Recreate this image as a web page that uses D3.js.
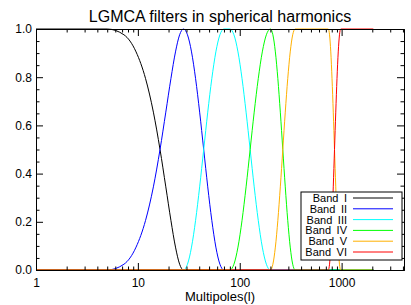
<!DOCTYPE html>
<html>
<head>
<meta charset="utf-8">
<script src="https://cdn.jsdelivr.net/npm/d3@7"></script>
<style>
  body { margin: 0; background: #fff; }
  svg { display: block; font-family: "Liberation Sans", Arial, sans-serif; }
</style>
</head>
<body>
<div id="chart"></div>
<script>
// filter responses (multipole l, response h)
var bandI_l   = [1, 5, 7.3, 9.6, 11.9, 14.2, 16.5, 18.8, 21.1, 23.4, 25.7, 28, 2048];
var bandI_h   = [1, 1, 0.976, 0.905, 0.794, 0.655, 0.5, 0.345, 0.206, 0.095, 0.024, 0, 0];

var bandII_l  = [1, 5, 7.3, 9.6, 11.9, 14.2, 16.5, 18.8, 21.1, 23.4, 25.7, 28,
                 30.69, 33.63, 36.86, 40.4, 44.27, 48.52, 53.18, 58.28, 63.87, 70, 2048];
var bandII_h  = [0, 0, 0.024, 0.095, 0.206, 0.345, 0.5, 0.655, 0.794, 0.905, 0.976, 1,
                 0.976, 0.905, 0.794, 0.655, 0.5, 0.345, 0.206, 0.095, 0.024, 0, 0];

var bandIII_l = [1, 28, 30.69, 33.63, 36.86, 40.4, 44.27, 48.52, 53.18, 58.28, 63.87, 70,
                 80, 87.68, 96.09, 105.31, 115.42, 126.49, 138.63, 151.94, 166.52, 182.5, 200, 2048];
var bandIII_h = [0, 0, 0.024, 0.095, 0.206, 0.345, 0.5, 0.655, 0.794, 0.905, 0.976, 1,
                 1, 0.976, 0.905, 0.794, 0.655, 0.5, 0.345, 0.206, 0.095, 0.024, 0, 0];

var bandIV_l  = [1, 80, 87.68, 96.09, 105.31, 115.42, 126.49, 138.63, 151.94, 166.52, 182.5, 200,
                 211.5, 223.7, 236.6, 250.2, 264.6, 279.8, 295.9, 313, 331, 350, 2048];
var bandIV_h  = [0, 0, 0.024, 0.095, 0.206, 0.345, 0.5, 0.655, 0.794, 0.905, 0.976, 1,
                 0.976, 0.905, 0.794, 0.655, 0.5, 0.345, 0.206, 0.095, 0.024, 0, 0];

var bandV_l   = [1, 200, 211.5, 223.7, 236.6, 250.2, 264.6, 279.8, 295.9, 313, 331, 350,
                 740, 761.1, 782.8, 805.1, 828, 851.6, 875.9, 900.8, 926.5, 952.9, 980, 2048];
var bandV_h   = [0, 0, 0.024, 0.095, 0.206, 0.345, 0.5, 0.655, 0.794, 0.905, 0.976, 1,
                 1, 0.976, 0.905, 0.794, 0.655, 0.5, 0.345, 0.206, 0.095, 0.024, 0, 0];

var bandVI_l  = [1, 740, 761.1, 782.8, 805.1, 828, 851.6, 875.9, 900.8, 926.5, 952.9, 980, 2048];
var bandVI_h  = [0, 0, 0.024, 0.095, 0.206, 0.345, 0.5, 0.655, 0.794, 0.905, 0.976, 1, 1];

var band_names = ["Band I", "Band II", "Band III", "Band IV", "Band V", "Band VI"];
var band_l = [bandI_l, bandII_l, bandIII_l, bandIV_l, bandV_l, bandVI_l];
var band_h = [bandI_h, bandII_h, bandIII_h, bandIV_h, bandV_h, bandVI_h];

var x_major = [1, 10, 100, 1000];
var x_minor = [2, 3, 4, 5, 6, 7, 8, 9, 20, 30, 40, 50, 60, 70, 80, 90,
               200, 300, 400, 500, 600, 700, 800, 900, 2000, 3000, 4000];
var y_major = [0, 0.2, 0.4, 0.6, 0.8, 1.0];
var y_minor = [0.05, 0.1, 0.15, 0.25, 0.3, 0.35, 0.45, 0.5, 0.55, 0.65, 0.7, 0.75, 0.85, 0.9, 0.95];

var colours = ["#000000", "#0000ff", "#00ffff", "#00ff00", "#ffb000", "#ff0000"];

var width = 411, height = 305;
var plot_left = 36, plot_right = 404, plot_top = 29, plot_bottom = 270;

var svg = d3.select("#chart").append("svg")
    .attr("width", width)
    .attr("height", height);

var x = d3.scaleLog().domain([1, 4096]).range([plot_left, plot_right]);
var y = d3.scaleLinear().domain([0, 1]).range([plot_bottom, plot_top]);

// curves
var line = d3.line()
    .x(function(d) { return x(d[0]); })
    .y(function(d) { return y(d[1]); })
    .curve(d3.curveMonotoneX);

band_l.forEach(function(ls, i) {
    var pts = ls.map(function(l, j) { return [l, band_h[i][j]]; });
    svg.append("path")
        .attr("d", line(pts))
        .attr("fill", "none")
        .attr("stroke", colours[i])
        .attr("stroke-width", 1);
});

// axes, ticks pointing inwards
function style_axis(g, fs) {
    g.selectAll("path.domain").attr("stroke", "#000");
    g.selectAll("line").attr("stroke", "#000");
    g.selectAll("text").style("font-size", fs).attr("fill", "#000");
}

svg.append("g").attr("transform", "translate(0," + plot_bottom + ")")
    .call(d3.axisBottom(x).tickValues(x_major).tickSize(-7).tickSizeOuter(0)
        .tickPadding(8).tickFormat(d3.format("d")))
    .call(style_axis, "12px");
svg.append("g").attr("transform", "translate(0," + plot_bottom + ")")
    .call(d3.axisBottom(x).tickValues(x_minor).tickSize(-3.5).tickSizeOuter(0).tickFormat(""))
    .call(style_axis, "12px");
svg.append("g").attr("transform", "translate(0," + plot_top + ")")
    .call(d3.axisTop(x).tickValues(x_major).tickSize(-7).tickSizeOuter(0).tickFormat(""))
    .call(style_axis, "12px");
svg.append("g").attr("transform", "translate(0," + plot_top + ")")
    .call(d3.axisTop(x).tickValues(x_minor).tickSize(-3.5).tickSizeOuter(0).tickFormat(""))
    .call(style_axis, "12px");

svg.append("g").attr("transform", "translate(" + plot_left + ",0)")
    .call(d3.axisLeft(y).tickValues(y_major).tickSize(-7).tickSizeOuter(0)
        .tickPadding(4).tickFormat(d3.format(".1f")))
    .call(style_axis, "12px");
svg.append("g").attr("transform", "translate(" + plot_left + ",0)")
    .call(d3.axisLeft(y).tickValues(y_minor).tickSize(-3.5).tickSizeOuter(0).tickFormat(""))
    .call(style_axis, "12px");
svg.append("g").attr("transform", "translate(" + plot_right + ",0)")
    .call(d3.axisRight(y).tickValues(y_major).tickSize(-7).tickSizeOuter(0).tickFormat(""))
    .call(style_axis, "12px");
svg.append("g").attr("transform", "translate(" + plot_right + ",0)")
    .call(d3.axisRight(y).tickValues(y_minor).tickSize(-3.5).tickSizeOuter(0).tickFormat(""))
    .call(style_axis, "12px");

// title and x label
svg.append("text")
    .text("LGMCA filters in spherical harmonics")
    .attr("x", (plot_left + plot_right) / 2)
    .attr("y", 22)
    .attr("text-anchor", "middle")
    .style("font-size", "16px");

svg.append("text")
    .text("Multipoles(l)")
    .attr("x", (plot_left + plot_right) / 2)
    .attr("y", 301)
    .attr("text-anchor", "middle")
    .style("font-size", "13px");

// legend
var legend = svg.append("g");
legend.append("rect")
    .attr("x", 301).attr("y", 192)
    .attr("width", 101).attr("height", 68)
    .attr("fill", "#fff")
    .attr("stroke", "#000")
    .attr("stroke-width", 1);

band_names.forEach(function(name, i) {
    var ly = 198 + i * 10.8;
    legend.append("text")
        .text(name)
        .attr("x", 347)
        .attr("y", ly)
        .attr("dominant-baseline", "central")
        .attr("text-anchor", "end")
        .style("word-spacing", "2.5px")
        .style("font-size", "11px");
    legend.append("line")
        .attr("x1", 353).attr("x2", 393)
        .attr("y1", ly).attr("y2", ly)
        .attr("stroke", colours[i])
        .attr("stroke-width", 1);
});
</script>
</body>
</html>
